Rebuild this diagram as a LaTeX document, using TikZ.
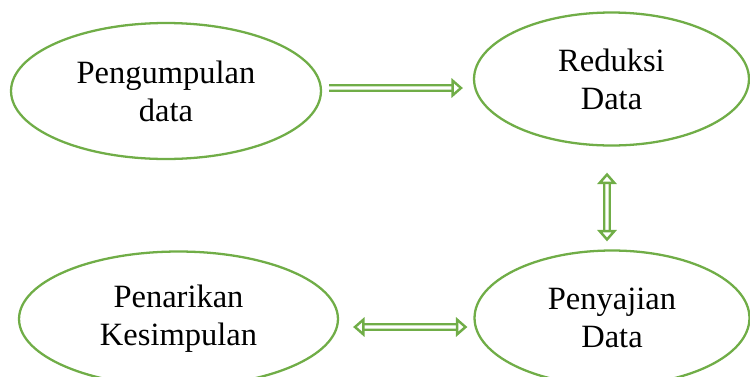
\documentclass[tikz,border=0pt]{standalone}
\usepackage{fontspec}
\setmainfont{Liberation Serif}
\usetikzlibrary{arrows.meta,shapes.geometric}

\definecolor{leaf}{RGB}{112,173,71}

\begin{document}
\begin{tikzpicture}[
  x=0.02cm, y=-0.02cm,
  stage/.style={ellipse, draw=leaf, line width=1.3pt, align=center, inner sep=0pt,
    font=\fontsize{18.5}{21.5}\selectfont},
  head/.tip={Triangle[open, fill=white, length=6.5pt, width=11pt, line width=1.4pt]},
  flow/.style={draw=leaf, line width=1.35pt, double=white, double distance=1.8pt, -head},
  flowboth/.style={flow, head-head}
]
\useasboundingbox (0,0) rectangle (750,376);

\node[stage, minimum width=6.2cm, minimum height=2.72cm] (kumpul) at (166,91) {Pengumpulan\\data};
\node[stage, minimum width=5.5cm, minimum height=2.66cm] (reduksi) at (611.5,79) {Reduksi\\Data};
\node[stage, minimum width=5.5cm, minimum height=2.7cm] (sajian) at (612,318) {Penyajian\\Data};
\node[stage, minimum width=6.38cm, minimum height=2.7cm] (tarik) at (178.5,319) {Penarikan\\Kesimpulan};

\draw[flow] ([xshift=0.14cm,yshift=0.06cm]kumpul.east) -- ([xshift=-0.2cm,yshift=-0.18cm]reduksi.west);
\draw[flowboth] ([xshift=-0.09cm,yshift=-0.52cm]reduksi.south) -- ([xshift=-0.1cm,yshift=0.16cm]sajian.north);
\draw[flowboth] ([xshift=0.28cm,yshift=-0.16cm]tarik.east) -- ([xshift=-0.12cm,yshift=-0.18cm]sajian.west);
\end{tikzpicture}
\end{document}
